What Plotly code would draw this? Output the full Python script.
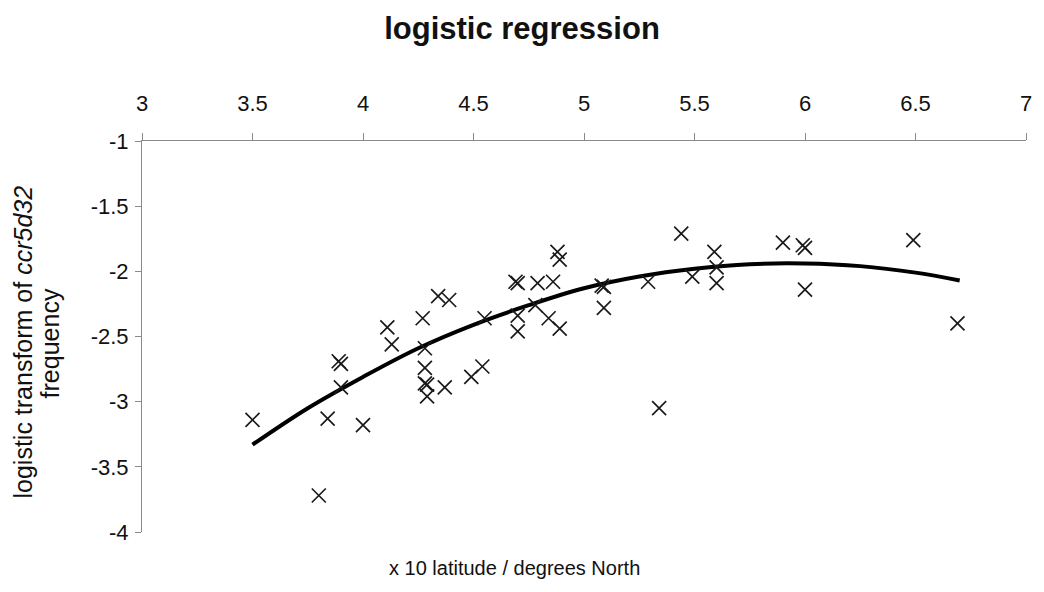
import plotly.graph_objects as go

# observed data (x 10 latitude, logistic transform of ccr5d32 frequency)
latitude = [3.50, 3.80, 3.84, 4.00, 3.89, 3.90, 3.90, 4.11, 4.13, 4.27, 4.28, 4.28,
            4.28, 4.29, 4.29, 4.34, 4.37, 4.39, 4.49, 4.54, 4.55, 4.69, 4.70, 4.70,
            4.70, 4.78, 4.79, 4.84, 4.86, 4.88, 4.89, 4.89, 5.08, 5.09, 5.09, 5.29,
            5.34, 5.44, 5.49, 5.59, 5.60, 5.60, 5.90, 5.99, 6.00, 6.00, 6.49, 6.69]
logit_freq = [-3.14, -3.72, -3.13, -3.18, -2.69, -2.71, -2.89, -2.43, -2.56, -2.36, -2.59, -2.74,
              -2.86, -2.87, -2.96, -2.19, -2.89, -2.22, -2.81, -2.73, -2.36, -2.08, -2.09, -2.34,
              -2.46, -2.26, -2.09, -2.36, -2.08, -1.85, -1.91, -2.44, -2.11, -2.12, -2.28, -2.08,
              -3.05, -1.71, -2.04, -1.85, -1.97, -2.09, -1.78, -1.80, -1.82, -2.14, -1.76, -2.40]

# regression curve
fit_lat = [3.5, 3.75, 4.0, 4.25, 4.5, 4.75, 5.0, 5.25, 5.5, 5.75, 6.0, 6.25, 6.5, 6.7]
fit_val = [-3.33, -3.05, -2.81, -2.59, -2.41, -2.26, -2.13, -2.04, -1.98, -1.945, -1.94, -1.96, -2.01, -2.07]

x_ticks = [3, 3.5, 4, 4.5, 5, 5.5, 6, 6.5, 7]
y_ticks = [-1, -1.5, -2, -2.5, -3, -3.5, -4]

FONT = "Liberation Sans, Arial, sans-serif"

fig = go.Figure()
fig.add_trace(go.Scatter(
    x=fit_lat, y=fit_val, mode="lines", line=dict(color="black", width=4, shape="spline"),
    showlegend=False, hoverinfo="skip"))
fig.add_trace(go.Scatter(
    x=latitude, y=logit_freq, mode="markers",
    marker=dict(symbol="x-thin-open", size=14, color="#1a1a1a",
                line=dict(color="#1a1a1a", width=1.7)),
    showlegend=False))

fig.update_layout(
    width=1044, height=592,
    margin=dict(l=142, r=14, t=141, b=60),
    paper_bgcolor="white", plot_bgcolor="white",
    font=dict(family=FONT, color="#111"),
    title=dict(text="<b>logistic regression</b>", x=0.5, xref="container", xanchor="center",
               y=1 - 28 / 592, yref="container", yanchor="middle",
               font=dict(size=31, family=FONT, color="#111")),
    xaxis=dict(range=[3, 7], side="top", tickvals=x_ticks,
               ticktext=[f"{v:g}" for v in x_ticks],
               showgrid=False, zeroline=False, showline=True, linecolor="#8a8a8a", linewidth=1,
               ticks="outside", ticklen=7, tickcolor="#8a8a8a", tickwidth=1,
               ticklabelstandoff=13,
               tickfont=dict(size=22, family=FONT, color="#111")),
    yaxis=dict(range=[-4, -1], tickvals=y_ticks, ticktext=[f"{v:g}" for v in y_ticks],
               showgrid=False, zeroline=False, showline=True, linecolor="#8a8a8a", linewidth=1,
               ticks="outside", ticklen=6, tickcolor="#8a8a8a", tickwidth=1,
               ticklabelstandoff=2,
               tickfont=dict(size=22, family=FONT, color="#111")),
)

fig.add_annotation(text="x 10 latitude / degrees North", xref="paper", yref="paper",
                   x=(516 - 142) / 888, y=-(568 - 532) / 391, xanchor="center", yanchor="middle",
                   showarrow=False, font=dict(size=20, family=FONT, color="#111"))
fig.add_annotation(text="logistic transform of <i>ccr5d32</i>", xref="paper", yref="paper",
                   x=-(142 - 22) / 888, y=(532 - 342) / 391, xanchor="center", yanchor="middle",
                   textangle=-90, showarrow=False, font=dict(size=25, family=FONT, color="#111"))
fig.add_annotation(text="frequency", xref="paper", yref="paper",
                   x=-(142 - 50) / 888, y=(532 - 343) / 391, xanchor="center", yanchor="middle",
                   textangle=-90, showarrow=False, font=dict(size=25, family=FONT, color="#111"))

fig.write_html("out.html")
